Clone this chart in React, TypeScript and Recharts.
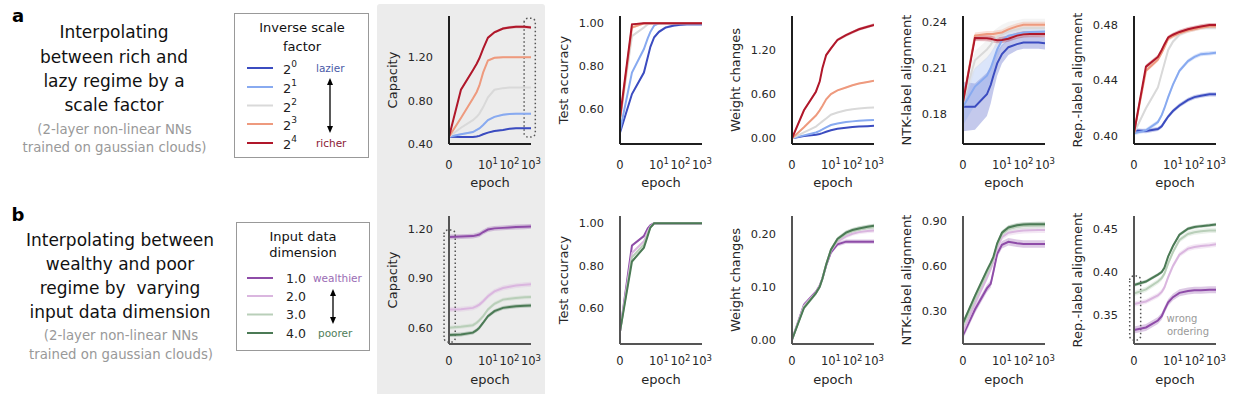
import React from 'react';
import { ComposedChart, Line, Area, XAxis, YAxis, ReferenceArea, Label } from 'recharts';

// epochs sampled; x axis is symlog (linthresh 2)
const EPOCHS = [0, 1, 2, 3, 4, 6, 10, 20, 50, 100, 200, 500, 1000];
const X_TICK_EPOCHS = [0, 10, 100, 1000];
const X_TICK_EXP = ['', '1', '2', '3'];

const symlog = (e: number) => (e <= 2 ? e * 0.5555 : 1.111 + Math.log10(e / 2));
const X_MAX = symlog(1000);
const X_TICKS = X_TICK_EPOCHS.map(symlog);

// row a: inverse scale factor 2^0 .. 2^4
const SCALE_EXP = ['0', '1', '2', '3', '4'];
const SCALE_COLORS = ['#3b4cc0', '#88aaf0', '#d9d9d9', '#ee9a7e', '#b0172a'];

// row b: input data dimension
const DIM_NAMES = ['1.0', '2.0', '3.0', '4.0'];
const DIM_COLORS = ['#8e4ca8', '#dab6df', '#b9cfb9', '#4b7a55'];

const capacityA = [
  [0.467, 0.465, 0.465, 0.47, 0.475, 0.49, 0.505, 0.52, 0.53, 0.54, 0.545, 0.545, 0.545],
  [0.467, 0.49, 0.51, 0.53, 0.544, 0.575, 0.62, 0.65, 0.67, 0.677, 0.68, 0.68, 0.68],
  [0.467, 0.55, 0.62, 0.65, 0.68, 0.74, 0.83, 0.9, 0.915, 0.92, 0.92, 0.92, 0.92],
  [0.467, 0.64, 0.82, 0.88, 0.94, 1.06, 1.17, 1.195, 1.2, 1.2, 1.2, 1.2, 1.2],
  [0.467, 0.9, 1.08, 1.14, 1.19, 1.28, 1.38, 1.43, 1.465, 1.475, 1.48, 1.48, 1.475],
];
const capacityASd = [0.006, 0.008, 0.006, 0.008, 0.012];

const accuracyA = [
  [0.49, 0.67, 0.77, 0.84, 0.89, 0.935, 0.96, 0.98, 0.99, 0.993, 0.995, 0.995, 0.995],
  [0.5, 0.77, 0.88, 0.93, 0.96, 0.99, 1.0, 1.0, 1.0, 1.0, 1.0, 1.0, 1.0],
  [0.55, 0.94, 0.98, 0.995, 1.0, 1.0, 1.0, 1.0, 1.0, 1.0, 1.0, 1.0, 1.0],
  [0.55, 0.98, 1.0, 1.0, 1.0, 1.0, 1.0, 1.0, 1.0, 1.0, 1.0, 1.0, 1.0],
  [0.56, 0.995, 1.0, 1.0, 1.0, 1.0, 1.0, 1.0, 1.0, 1.0, 1.0, 1.0, 1.0],
];
const accuracyASd = [0.006, 0.006, 0.006, 0.006, 0.004];

const weightA = [
  [0, 0.03, 0.05, 0.06, 0.07, 0.09, 0.11, 0.13, 0.145, 0.155, 0.16, 0.165, 0.17],
  [0, 0.04, 0.08, 0.1, 0.12, 0.15, 0.18, 0.2, 0.22, 0.23, 0.24, 0.245, 0.25],
  [0, 0.08, 0.16, 0.2, 0.23, 0.27, 0.32, 0.35, 0.38, 0.395, 0.405, 0.415, 0.42],
  [0, 0.15, 0.31, 0.38, 0.44, 0.53, 0.6, 0.65, 0.69, 0.72, 0.745, 0.765, 0.78],
  [0, 0.38, 0.633, 0.77, 0.95, 1.13, 1.22, 1.335, 1.4, 1.44, 1.48, 1.515, 1.54],
];
const weightASd = [0.005, 0.006, 0.008, 0.01, 0.02];

const ntkA = [
  [0.185, 0.185, 0.193, 0.199, 0.205, 0.213, 0.219, 0.2235, 0.2255, 0.2265, 0.2265, 0.2265, 0.226],
  [0.185, 0.198, 0.205, 0.21, 0.215, 0.222, 0.228, 0.231, 0.232, 0.233, 0.2333, 0.2335, 0.2336],
  [0.188, 0.215, 0.222, 0.225, 0.228, 0.23, 0.232, 0.234, 0.235, 0.236, 0.236, 0.236, 0.236],
  [0.188, 0.231, 0.232, 0.232, 0.232, 0.2325, 0.233, 0.235, 0.237, 0.238, 0.238, 0.238, 0.238],
  [0.188, 0.2295, 0.2293, 0.229, 0.2285, 0.228, 0.2282, 0.229, 0.231, 0.2318, 0.232, 0.232, 0.232],
];
const ntkASd = [
  [0.016, 0.015, 0.014, 0.012, 0.01, 0.008, 0.006, 0.005, 0.004, 0.004, 0.004, 0.004, 0.004],
  [0.012, 0.012, 0.012, 0.01, 0.008, 0.006, 0.004, 0.003, 0.003, 0.003, 0.003, 0.003, 0.003],
  0.006,
  0.002,
  0.002,
];

const repA = [
  [0.404, 0.4035, 0.405, 0.407, 0.41, 0.414, 0.418, 0.422, 0.426, 0.428, 0.429, 0.43, 0.43],
  [0.402, 0.404, 0.41, 0.415, 0.42, 0.428, 0.437, 0.447, 0.454, 0.457, 0.459, 0.4595, 0.46],
  [0.402, 0.42, 0.435, 0.445, 0.452, 0.462, 0.468, 0.473, 0.476, 0.477, 0.478, 0.478, 0.478],
  [0.402, 0.447, 0.455, 0.46, 0.464, 0.47, 0.472, 0.474, 0.476, 0.477, 0.478, 0.479, 0.479],
  [0.402, 0.45, 0.457, 0.462, 0.466, 0.471, 0.473, 0.475, 0.477, 0.478, 0.479, 0.48, 0.48],
];
const repASd = [0.0015, 0.0015, 0.0015, 0.0015, 0.0015];

const capacityB = [
  [1.15, 1.152, 1.155, 1.16, 1.165, 1.18, 1.195, 1.202, 1.205, 1.208, 1.21, 1.212, 1.214],
  [0.71, 0.712, 0.72, 0.73, 0.74, 0.76, 0.79, 0.82, 0.84, 0.848, 0.855, 0.86, 0.863],
  [0.6, 0.605, 0.615, 0.63, 0.645, 0.67, 0.71, 0.745, 0.77, 0.775, 0.78, 0.784, 0.786],
  [0.555, 0.558, 0.57, 0.585, 0.6, 0.63, 0.67, 0.7, 0.72, 0.725, 0.73, 0.733, 0.735],
];
const capacityBSd = [0.015, 0.015, 0.012, 0.012];

const accuracyB = [
  [0.49, 0.895, 0.94, 0.975, 0.99, 1.0, 1.0, 1.0, 1.0, 1.0, 1.0, 1.0, 1.0],
  [0.49, 0.86, 0.915, 0.96, 0.985, 1.0, 1.0, 1.0, 1.0, 1.0, 1.0, 1.0, 1.0],
  [0.49, 0.84, 0.9, 0.95, 0.98, 1.0, 1.0, 1.0, 1.0, 1.0, 1.0, 1.0, 1.0],
  [0.49, 0.82, 0.885, 0.94, 0.98, 1.0, 1.0, 1.0, 1.0, 1.0, 1.0, 1.0, 1.0],
];
const accuracyBSd = [0.006, 0.006, 0.006, 0.006];

const weightB = [
  [0, 0.066, 0.09, 0.102, 0.115, 0.14, 0.165, 0.18, 0.185, 0.185, 0.185, 0.185, 0.185],
  [0, 0.064, 0.089, 0.102, 0.116, 0.142, 0.168, 0.185, 0.195, 0.2, 0.203, 0.205, 0.206],
  [0, 0.062, 0.088, 0.1, 0.115, 0.142, 0.17, 0.188, 0.2, 0.205, 0.208, 0.211, 0.212],
  [0, 0.06, 0.088, 0.1, 0.115, 0.142, 0.17, 0.19, 0.202, 0.207, 0.21, 0.213, 0.215],
];
const weightBSd = [0.004, 0.004, 0.004, 0.004];

const ntkB = [
  [0.14, 0.31, 0.45, 0.48, 0.56, 0.68, 0.74, 0.76, 0.75, 0.745, 0.745, 0.745, 0.745],
  [0.16, 0.35, 0.52, 0.58, 0.63, 0.72, 0.79, 0.82, 0.83, 0.835, 0.837, 0.838, 0.838],
  [0.2, 0.38, 0.55, 0.6, 0.65, 0.74, 0.81, 0.845, 0.86, 0.865, 0.867, 0.868, 0.868],
  [0.22, 0.4, 0.57, 0.62, 0.66, 0.75, 0.82, 0.855, 0.87, 0.875, 0.876, 0.877, 0.877],
];
const ntkBSd = [0.025, 0.02, 0.02, 0.015];

const repB = [
  [0.333, 0.336, 0.344, 0.349, 0.356, 0.365, 0.371, 0.376, 0.378, 0.379, 0.379, 0.3795, 0.3795],
  [0.363, 0.366, 0.373, 0.377, 0.382, 0.394, 0.407, 0.42, 0.427, 0.429, 0.43, 0.431, 0.432],
  [0.375, 0.38, 0.389, 0.393, 0.398, 0.41, 0.423, 0.437, 0.444, 0.446, 0.447, 0.448, 0.448],
  [0.385, 0.389, 0.397, 0.4, 0.405, 0.418, 0.43, 0.443, 0.45, 0.452, 0.453, 0.454, 0.455],
];
const repBSd = [0.004, 0.003, 0.003, 0.002];

const PLOT_W = 82;
const PLOT_H = 128;
const AX_W = 66;
const M_TOP = 6;
const M_RIGHT = 20;
const AX_H = 50;
const TEXT = '#262626';
const FONT = 'DejaVu Sans, sans-serif';

function EpochTick(props: any) {
  const { x, y, payload } = props;
  const idx = X_TICKS.findIndex((p) => Math.abs(p - payload.value) < 1e-6);
  const exp = X_TICK_EXP[idx];
  return (
    <text x={x} y={y} dy="0.71em" textAnchor="middle" fontSize={11.5} fill={TEXT} fontFamily={FONT}>
      {exp ? (
        <>
          <tspan>10</tspan>
          <tspan dy={-4.5} fontSize={8.5}>
            {exp}
          </tspan>
        </>
      ) : (
        '0'
      )}
    </text>
  );
}

interface Box {
  x1: number;
  x2: number;
  y1: number;
  y2: number;
}

interface PanelProps {
  left: number;
  top: number;
  series: number[][];
  sd: (number | number[])[];
  colors: string[];
  domain: [number, number];
  ticks: number[];
  yLabel: string;
  spine: string;
  tickGap: number;
  xLabelGap: number;
  box?: Box;
}

function Panel({ left, top, series, sd, colors, domain, ticks, yLabel, spine, tickGap, xLabelGap, box }: PanelProps) {
  const data = EPOCHS.map((e, i) => {
    const row: Record<string, any> = { x: symlog(e) };
    series.forEach((s, k) => {
      const sdk = sd[k];
      const d = Array.isArray(sdk) ? sdk[i] : sdk;
      row['m' + k] = s[i];
      row['b' + k] = [s[i] - d, s[i] + d];
    });
    return row;
  });

  const lx = AX_W - 57;
  const ly = M_TOP + PLOT_H / 2;

  return (
    <div style={{ position: 'absolute', left: left - AX_W, top: top - M_TOP }}>
      <ComposedChart
        width={AX_W + PLOT_W + M_RIGHT}
        height={M_TOP + PLOT_H + AX_H}
        data={data}
        margin={{ top: M_TOP, right: M_RIGHT, left: 0, bottom: 0 }}
      >
        <XAxis
          dataKey="x"
          type="number"
          domain={[0, X_MAX]}
          ticks={X_TICKS}
          interval={0}
          allowDataOverflow
          height={AX_H}
          tickLine={false}
          tickSize={0}
          tickMargin={tickGap}
          tick={<EpochTick />}
          axisLine={{ stroke: spine, strokeWidth: 2 }}
        >
          <Label
            value="epoch"
            content={() => (
              <text
                x={AX_W + PLOT_W / 2}
                y={M_TOP + PLOT_H + xLabelGap}
                textAnchor="middle"
                fontSize={13}
                fill={TEXT}
                fontFamily={FONT}
              >
                epoch
              </text>
            )}
          />
        </XAxis>
        <YAxis
          type="number"
          domain={domain}
          ticks={ticks}
          allowDataOverflow
          width={AX_W}
          tickLine={false}
          tickSize={0}
          tickMargin={16}
          tickFormatter={(v: number) => v.toFixed(2)}
          tick={{ fontSize: 11.3, fill: TEXT, fontFamily: FONT }}
          axisLine={{ stroke: spine, strokeWidth: 2 }}
        >
          <Label
            value={yLabel}
            content={() => (
              <text
                x={lx}
                y={ly}
                transform={`rotate(-90 ${lx} ${ly})`}
                textAnchor="middle"
                dominantBaseline="central"
                fontSize={13}
                fill={TEXT}
                fontFamily={FONT}
              >
                {yLabel}
              </text>
            )}
          />
        </YAxis>
        {series.flatMap((_, k) => [
          <Area
            key={'b' + k}
            dataKey={'b' + k}
            type="linear"
            stroke="none"
            fill={colors[k]}
            fillOpacity={0.3}
            dot={false}
            activeDot={false}
            isAnimationActive={false}
          />,
          <Line
            key={'m' + k}
            dataKey={'m' + k}
            type="linear"
            stroke={colors[k]}
            strokeWidth={2}
            dot={false}
            activeDot={false}
            isAnimationActive={false}
          />,
        ])}
        {box && (
          <ReferenceArea
            x1={box.x1}
            x2={box.x2}
            y1={box.y1}
            y2={box.y2}
            ifOverflow="visible"
            fill="none"
            stroke="#555"
            strokeWidth={1.5}
            strokeDasharray="1.5 2.5"
            radius={4}
          />
        )}
      </ComposedChart>
    </div>
  );
}

const COLS = [449, 620, 792, 963, 1134];
const ROW_A = 16;
const ROW_B = 216;

function Arrow({ x, y1, y2 }: { x: number; y1: number; y2: number }) {
  return (
    <g>
      <line x1={x} x2={x} y1={y1 + 5} y2={y2 - 5} stroke="#000" strokeWidth={1.3} />
      <path d={`M${x - 3},${y1 + 7} L${x},${y1} L${x + 3},${y1 + 7} Z`} fill="#000" />
      <path d={`M${x - 3},${y2 - 7} L${x},${y2} L${x + 3},${y2 - 7} Z`} fill="#000" />
    </g>
  );
}

function SideText() {
  const aLines = ['Interpolating', 'between rich and', 'lazy regime by a', 'scale factor'];
  const aY = [32, 56.5, 80.5, 105];
  const bLines = ['Interpolating between', 'wealthy and poor', 'regime by  varying', 'input data dimension'];
  const bY = [240, 264, 288, 312];
  const sub = ['(2-layer non-linear NNs', 'trained on gaussian clouds)'];
  const scaleY = [68, 87, 105.5, 124, 143];
  const dimY = [278, 296, 314.5, 333];
  return (
    <svg width={380} height={394} style={{ position: 'absolute', left: 0, top: 0 }} fontFamily={FONT}>
      <text x={18} y={15} fontSize={18} fontWeight="bold" dominantBaseline="central" textAnchor="middle">
        a
      </text>
      <text x={18} y={214} fontSize={18} fontWeight="bold" dominantBaseline="central" textAnchor="middle">
        b
      </text>
      {aLines.map((t, i) => (
        <text key={t} x={114} y={aY[i]} fontSize={17} textAnchor="middle" dominantBaseline="central" fill="#111">
          {t}
        </text>
      ))}
      {sub.map((t, i) => (
        <text key={'as' + i} x={114.5} y={129 + i * 18} fontSize={13.3} textAnchor="middle" dominantBaseline="central" fill="#999">
          {t}
        </text>
      ))}
      {bLines.map((t, i) => (
        <text key={t} x={120} y={bY[i]} fontSize={17} textAnchor="middle" dominantBaseline="central" fill="#111" style={{ whiteSpace: 'pre' }}>
          {t}
        </text>
      ))}
      {sub.map((t, i) => (
        <text key={'bs' + i} x={121} y={335 + i * 19} fontSize={13.3} textAnchor="middle" dominantBaseline="central" fill="#999">
          {t}
        </text>
      ))}

      {/* legend a */}
      <rect x={234.5} y={13.5} width={134} height={144} fill="#fff" stroke="#999" strokeWidth={1} />
      <text x={302} y={27} fontSize={13} textAnchor="middle" dominantBaseline="central" fill="#111">
        Inverse scale
      </text>
      <text x={302} y={46} fontSize={13} textAnchor="middle" dominantBaseline="central" fill="#111">
        factor
      </text>
      {SCALE_EXP.map((ex, i) => (
        <g key={'ls' + i}>
          <line x1={247} x2={273} y1={scaleY[i]} y2={scaleY[i]} stroke={SCALE_COLORS[i]} strokeWidth={2} />
          <text x={283} y={scaleY[i] + 1} fontSize={13} dominantBaseline="central" fill="#222">
            <tspan>2</tspan>
            <tspan dy={-5} fontSize={9}>
              {ex}
            </tspan>
          </text>
        </g>
      ))}
      <text x={316} y={68} fontSize={10.5} dominantBaseline="central" fill="#4a5aa8">
        lazier
      </text>
      <text x={316} y={143} fontSize={10.5} dominantBaseline="central" fill="#8b2035">
        richer
      </text>
      <Arrow x={330} y1={78} y2={133} />

      {/* legend b */}
      <rect x={236.5} y={222.5} width={133} height={128} fill="#fff" stroke="#999" strokeWidth={1} />
      <text x={303} y={236} fontSize={13} textAnchor="middle" dominantBaseline="central" fill="#111">
        Input data
      </text>
      <text x={303} y={252} fontSize={13} textAnchor="middle" dominantBaseline="central" fill="#111">
        dimension
      </text>
      {DIM_NAMES.map((n, i) => (
        <g key={'ld' + i}>
          <line x1={247} x2={273} y1={dimY[i]} y2={dimY[i]} stroke={DIM_COLORS[i]} strokeWidth={2} />
          <text x={286} y={dimY[i]} fontSize={12.5} dominantBaseline="central" fill="#222">
            {n}
          </text>
        </g>
      ))}
      <text x={313} y={278} fontSize={10.5} dominantBaseline="central" fill="#9a6cb4">
        wealthier
      </text>
      <text x={318} y={333} fontSize={10.5} dominantBaseline="central" fill="#4f7d5a">
        poorer
      </text>
      <Arrow x={333} y1={289} y2={324} />
    </svg>
  );
}

export default function App() {
  const spineA = '#1f1f1f';
  const spineB = '#555';
  return (
    <div
      style={{
        position: 'absolute',
        left: 0,
        top: 0,
        width: 1236,
        height: 394,
        background: '#fff',
        fontFamily: FONT,
        overflow: 'hidden',
      }}
    >
      <div
        style={{
          position: 'absolute',
          left: 377,
          top: 4,
          width: 168,
          height: 394,
          background: '#ececec',
          borderRadius: 3,
        }}
      />
      <SideText />

      <Panel left={COLS[0]} top={ROW_A} series={capacityA} sd={capacityASd} colors={SCALE_COLORS}
        domain={[0.4, 1.58]} ticks={[0.4, 0.8, 1.2]} yLabel="Capacity" spine={spineA} tickGap={16.5} xLabelGap={43}
        box={{ x1: 3.49, x2: 4.01, y1: 0.464, y2: 1.559 }} />
      <Panel left={COLS[1]} top={ROW_A} series={accuracyA} sd={accuracyASd} colors={SCALE_COLORS}
        domain={[0.437, 1.034]} ticks={[0.6, 0.8, 1.0]} yLabel="Test accuracy" spine={spineA} tickGap={16.5} xLabelGap={43} />
      <Panel left={COLS[2]} top={ROW_A} series={weightA} sd={weightASd} colors={SCALE_COLORS}
        domain={[-0.077, 1.66]} ticks={[0, 0.6, 1.2]} yLabel="Weight changes" spine={spineA} tickGap={16.5} xLabelGap={43} />
      <Panel left={COLS[3]} top={ROW_A} series={ntkA} sd={ntkASd} colors={SCALE_COLORS}
        domain={[0.1608, 0.2437]} ticks={[0.18, 0.21, 0.24]} yLabel="NTK-label alignment" spine={spineA} tickGap={16.5} xLabelGap={43} />
      <Panel left={COLS[4]} top={ROW_A} series={repA} sd={repASd} colors={SCALE_COLORS}
        domain={[0.3942, 0.4865]} ticks={[0.4, 0.44, 0.48]} yLabel="Rep.-label alignment" spine={spineA} tickGap={16.5} xLabelGap={43} />

      <Panel left={COLS[0]} top={ROW_B} series={capacityB} sd={capacityBSd} colors={DIM_COLORS}
        domain={[0.501, 1.277]} ticks={[0.6, 0.9, 1.2]} yLabel="Capacity" spine={spineB} tickGap={13} xLabelGap={40}
        box={{ x1: -0.23, x2: 0.29, y1: 0.513, y2: 1.192 }} />
      <Panel left={COLS[1]} top={ROW_B} series={accuracyB} sd={accuracyBSd} colors={DIM_COLORS}
        domain={[0.432, 1.034]} ticks={[0.6, 0.8, 1.0]} yLabel="Test accuracy" spine={spineB} tickGap={13} xLabelGap={40} />
      <Panel left={COLS[2]} top={ROW_B} series={weightB} sd={weightBSd} colors={DIM_COLORS}
        domain={[-0.008, 0.2334]} ticks={[0, 0.1, 0.2]} yLabel="Weight changes" spine={spineB} tickGap={13} xLabelGap={40} />
      <Panel left={COLS[3]} top={ROW_B} series={ntkB} sd={ntkBSd} colors={DIM_COLORS}
        domain={[0.081, 0.931]} ticks={[0.3, 0.6, 0.9]} yLabel="NTK-label alignment" spine={spineB} tickGap={13} xLabelGap={40} />
      <Panel left={COLS[4]} top={ROW_B} series={repB} sd={repBSd} colors={DIM_COLORS}
        domain={[0.3169, 0.4647]} ticks={[0.35, 0.4, 0.45]} yLabel="Rep.-label alignment" spine={spineB} tickGap={13} xLabelGap={40}
        box={{ x1: -0.2, x2: 0.31, y1: 0.3215, y2: 0.3954 }} />

      <div style={{ position: 'absolute', left: 1150, top: 312, width: 76, textAlign: 'center', fontSize: 10, lineHeight: '13px', color: '#999' }}>
        <div style={{ marginLeft: -12 }}>wrong</div>
        <div>ordering</div>
      </div>
    </div>
  );
}
